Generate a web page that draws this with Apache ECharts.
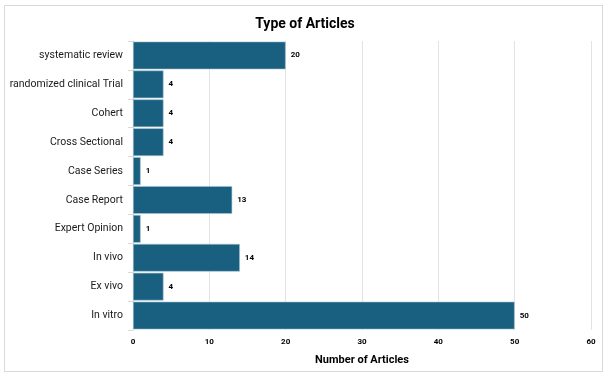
<!DOCTYPE html>
<html><head><meta charset="utf-8">
<script src="https://cdn.jsdelivr.net/npm/echarts@6/dist/echarts.min.js"></script>
<style>html,body{margin:0;padding:0;background:#fff}#c{width:610px;height:381px}
#frame{position:absolute;left:4px;top:5px;width:599px;height:367px;border:1px solid #d9d9d9;box-sizing:border-box;pointer-events:none}</style>
</head><body><div id="c"></div><div id="frame"></div>
<script>
var categories = ["systematic review","randomized clinical Trial","Cohert","Cross Sectional","Case Series","Case Report","Expert Opinion","In vivo","Ex vivo","In vitro"];
var values = [20,4,4,4,1,13,1,14,4,50];
var xTicks = [0,10,20,30,40,50,60];
var chart = echarts.init(document.getElementById('c'), null, {renderer:'canvas'});
chart.setOption({
  animation:false,
  title:{text:'Type of Articles',left:'center',top:12,textStyle:{fontFamily:'Roboto',fontSize:14,fontWeight:'bold',color:'#000'}},
  grid:{left:133,right:19,top:41,bottom:51,containLabel:false},
  xAxis:{type:'value',min:0,max:60,interval:10,
    name:'Number of Articles',nameLocation:'middle',nameGap:25,
    nameTextStyle:{fontFamily:'Roboto',fontSize:11,fontWeight:'bold',color:'#000'},
    axisLine:{show:false},axisTick:{show:false},
    axisLabel:{fontFamily:'Roboto',fontSize:8,fontWeight:'bold',color:'#000',margin:8,formatter:function(v){return xTicks.indexOf(v)>=0?String(v):'';}},
    splitLine:{show:true,lineStyle:{color:'#e3e3e3',width:1}}},
  yAxis:{type:'category',data:categories,inverse:true,
    axisLine:{show:true,lineStyle:{color:'#d9d9d9'}},
    axisTick:{show:true,length:5,lineStyle:{color:'#d9d9d9'}},
    axisLabel:{fontFamily:'Roboto',fontSize:10.5,color:'#1a1a1a',margin:10}},
  series:[{type:'bar',data:values,barCategoryGap:'4%',
    itemStyle:{color:'#185f80',borderColor:'#a9c4d2',borderWidth:0.6},
    label:{show:true,position:'right',distance:5,fontFamily:'Roboto',fontSize:8,fontWeight:'bold',color:'#000'}}]
});
</script></body></html>
